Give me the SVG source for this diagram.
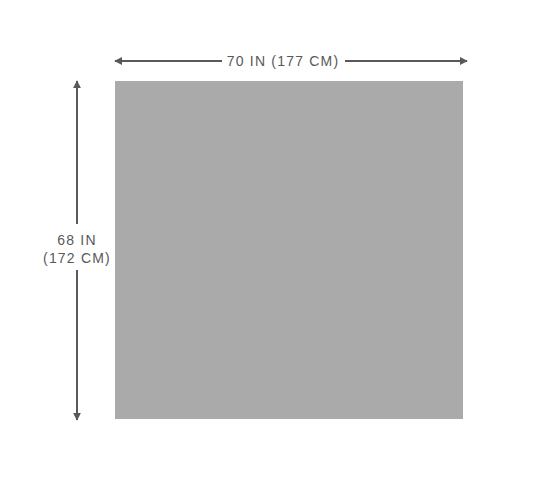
<svg xmlns="http://www.w3.org/2000/svg" width="556" height="500" viewBox="0 0 556 500">
<style>
.dim{stroke:#595959;stroke-width:2;fill:none}
.lbl{font-family:"Liberation Sans",Arial,sans-serif;font-size:14px;fill:#595959;letter-spacing:1.2px;text-anchor:middle}
</style>
<defs>
<marker id="ah" viewBox="0 0 10 10" refX="9" refY="5" markerWidth="4" markerHeight="4" orient="auto-start-reverse" markerUnits="strokeWidth">
<path d="M0,0 L10,5 L0,10 z" fill="#595959"/>
</marker>
</defs>
<rect width="556" height="500" fill="#ffffff"/>
<g id="panel">
<rect x="115" y="81" width="348" height="338" fill="#aaaaaa"/>
</g>
<g id="connectors">
<line class="dim" x1="115" y1="61" x2="222" y2="61" marker-start="url(#ah)"/>
<line class="dim" x1="345" y1="61" x2="467" y2="61" marker-end="url(#ah)"/>
<line class="dim" x1="77" y1="81" x2="77" y2="224" marker-start="url(#ah)"/>
<line class="dim" x1="77" y1="270" x2="77" y2="420" marker-end="url(#ah)"/>
</g>
<g id="width-label">
<text class="lbl" x="283" y="66">70 IN (177 CM)</text>
</g>
<g id="height-label">
<text class="lbl" x="77" y="245">68 IN</text>
<text class="lbl" x="77" y="263">(172 CM)</text>
</g>
</svg>
